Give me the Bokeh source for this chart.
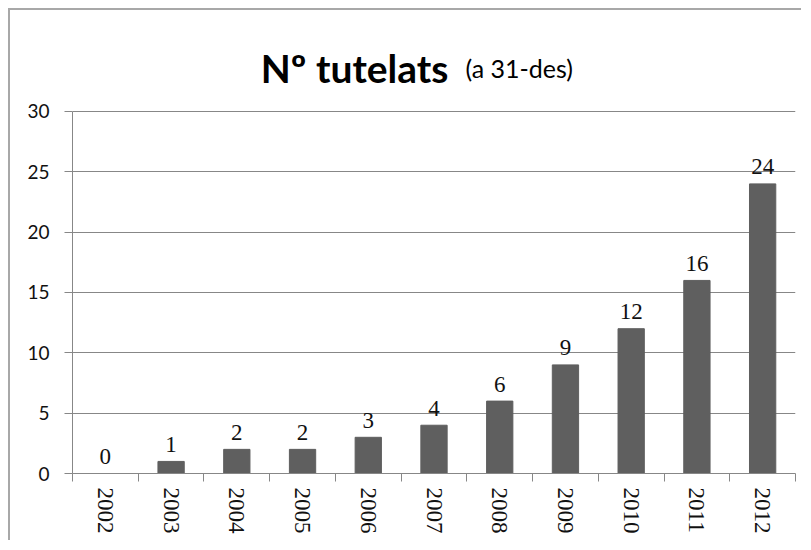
from bokeh.plotting import figure
from bokeh.models import ColumnDataSource, Range1d, FixedTicker, Label
from bokeh.core.properties import value
from bokeh.embed import file_html
from bokeh.resources import INLINE

# ---- data ----
years = ["2002", "2003", "2004", "2005", "2006", "2007", "2008", "2009", "2010", "2011", "2012"]
counts = [0, 1, 2, 2, 3, 4, 6, 9, 12, 16, 24]
y_ticks = [0, 5, 10, 15, 20, 25, 30]
title_main = "Nº tutelats"
title_sub = "(a 31-des)"

centers = [i + 0.5 for i in range(len(years))]
bounds = [float(i) for i in range(len(years) + 1)]

src = ColumnDataSource(dict(x=centers, count=counts, label=[str(c) for c in counts]))

p = figure(width=793, height=532, output_backend="svg", toolbar_location=None,
           x_range=Range1d(0, len(years)), y_range=Range1d(0, 37.54),
           min_border_left=62, min_border_right=8, min_border_top=10, min_border_bottom=69)
p.styles = {"border-left": "2px solid #a8a8a8", "border-top": "2px solid #a8a8a8",
            "border-right": "none", "border-bottom": "none",
            "margin-left": "8px", "margin-top": "8px"}
p.outline_line_color = None
p.background_fill_color = "white"
p.border_fill_color = "white"

grid_col = "#878787"
p.xgrid.visible = False
p.ygrid.grid_line_color = grid_col
p.ygrid.ticker = FixedTicker(ticks=y_ticks)

p.vbar(x="x", top="count", width=0.4, source=src, color="#5f5f5f")
p.text(x="x", y="count", text="label", source=src, text_align="center",
       text_baseline="alphabetic", y_offset=-17,
       text_font=value("Liberation Serif"), text_font_size="23px", text_color="#111111")

# x axis
xa = p.xaxis[0]
xa.ticker = FixedTicker(ticks=centers, minor_ticks=bounds)
xa.major_label_overrides = {c: y for c, y in zip(centers, years)}
xa.major_label_orientation = "vertical"
xa.major_tick_line_color = None
xa.major_tick_out = 8
xa.major_tick_in = 0
xa.minor_tick_line_color = grid_col
xa.minor_tick_out = 8
xa.minor_tick_in = 0
xa.axis_line_color = grid_col
xa.major_label_standoff = 6
xa.major_label_text_font = "Liberation Serif"
xa.major_label_text_font_size = "23px"
xa.major_label_text_color = "#111111"

# y axis
ya = p.yaxis[0]
ya.ticker = FixedTicker(ticks=y_ticks)
ya.bounds = (0, 30)
ya.minor_tick_line_color = None
ya.major_tick_line_color = grid_col
ya.major_tick_out = 8
ya.major_tick_in = 0
ya.axis_line_color = grid_col
ya.major_label_standoff = 15
ya.major_label_text_font = "Lato"
ya.major_label_text_font_size = "19px"
ya.major_label_text_color = "#111111"

# title
p.add_layout(Label(x=5.72, y=33.64, text=title_main, text_align="right", text_baseline="alphabetic",
                   text_font="Lato", text_font_style="bold", text_font_size="39px", text_color="#000000"))
p.add_layout(Label(x=5.98, y=33.64, text=title_sub, text_align="left", text_baseline="alphabetic",
                   text_font="Lato", text_font_size="25px", text_color="#000000"))

open("out.html", "w").write(file_html(p, INLINE))
